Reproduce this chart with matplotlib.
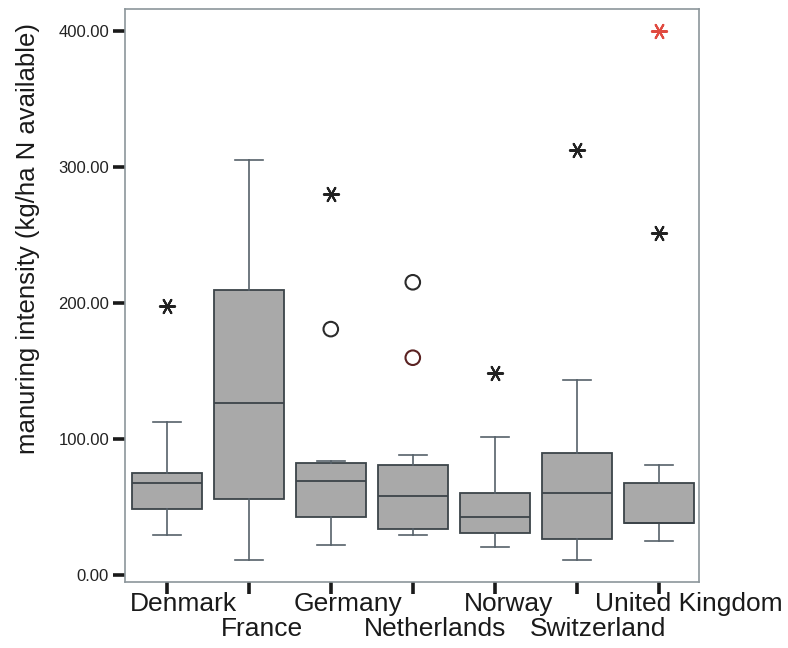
import matplotlib
matplotlib.use("Agg")
import matplotlib.pyplot as plt
from matplotlib.transforms import ScaledTranslation
import numpy as np

plt.rcParams['font.family'] = ['Liberation Sans', 'DejaVu Sans']

countries = ['Denmark', 'France', 'Germany', 'Netherlands', 'Norway',
             'Switzerland', 'United Kingdom']
whislo = [29.7, 11.2, 22.6, 29.7, 21.0, 11.2, 25.6]
q1 = [49.0, 56.2, 43.0, 34.1, 31.0, 27.0, 38.8]
med = [67.7, 126.4, 69.4, 58.6, 43.0, 60.8, 38.8]
q3 = [75.3, 209.8, 82.4, 80.9, 60.6, 89.7, 67.7]
whishi = [113.0, 304.8, 83.8, 88.5, 101.5, 143.5, 80.9]

# outliers (o) and extreme values (*)
circle_idx = [2, 3, 3]
circle_val = [180.9, 215.3, 159.9]
circle_edge = ['#2b2b2b', '#2b2b2b', '#5a2222']
star_idx = [0, 2, 4, 5, 6, 6]
star_val = [197.9, 280.0, 148.9, 312.4, 251.4, 399.8]
star_col = ['#222222'] * 5 + ['#e04a40']

yticks = [0, 100, 200, 300, 400]

fig = plt.figure(figsize=(7.88, 6.48), dpi=100)
ax = fig.add_axes([0.1586, 0.1019, 0.7284, 0.8842])

stats = []
for i, c in enumerate(countries):
    stats.append({'label': c, 'whislo': whislo[i], 'q1': q1[i], 'med': med[i],
                  'q3': q3[i], 'whishi': whishi[i], 'fliers': []})

pos = np.arange(len(countries))
ax.bxp(stats, positions=pos, widths=0.85, patch_artist=True, showfliers=False,
       boxprops=dict(facecolor='#a9a9a9', edgecolor='#3c4449', linewidth=1.3),
       medianprops=dict(color='#3c4449', linewidth=1.3),
       whiskerprops=dict(color='#56616a', linewidth=1.2),
       capprops=dict(color='#56616a', linewidth=1.2),
       capwidths=0.34)

for i, v, e in zip(circle_idx, circle_val, circle_edge):
    ax.scatter(pos[i], v, s=110, facecolors='none', edgecolors=e,
               linewidths=1.5, zorder=4)
for i, v, c in zip(star_idx, star_val, star_col):
    ax.scatter(pos[i], v, s=120, marker=(6, 2, 90), color=c,
               linewidths=1.5, zorder=4)

ax.set_xlim(-0.51, 6.49)
ax.set_ylim(-4.8, 416)
ax.set_yticks(yticks)
ax.set_yticklabels(['%.2f' % t for t in yticks], fontsize=12, color='#222222')
ax.set_xticks(pos)
ax.set_xticklabels([])
ax.tick_params(axis='both', length=8.5, width=2.6, color='#1a1a1a')
ax.tick_params(axis='y', pad=3)

for s in ax.spines.values():
    s.set_color('#8c969b')
    s.set_linewidth(1.2)

# category names in two staggered rows under the ticks
trans = ax.get_xaxis_transform()
names = []
for i, c in enumerate(countries):
    names.append(ax.text(pos[i], 0, c, transform=trans, ha='center', va='top',
                         fontsize=19, color='#1a1a1a'))
fig.canvas.draw()
r = fig.canvas.get_renderer()
for i, t in enumerate(names):
    w = t.get_window_extent(r).width
    dx = 0.158 * w / fig.dpi
    dy = -(10 + 25 * (i % 2)) / fig.dpi
    t.set_transform(trans + ScaledTranslation(dx, dy, fig.dpi_scale_trans))

fig.text(0.036, 1 - 238.5 / 648, 'manuring intensity (kg/ha N available)',
         rotation=90, ha='center', va='center', fontsize=18.5, color='#1a1a1a')

fig.savefig('out.png', dpi=100)
